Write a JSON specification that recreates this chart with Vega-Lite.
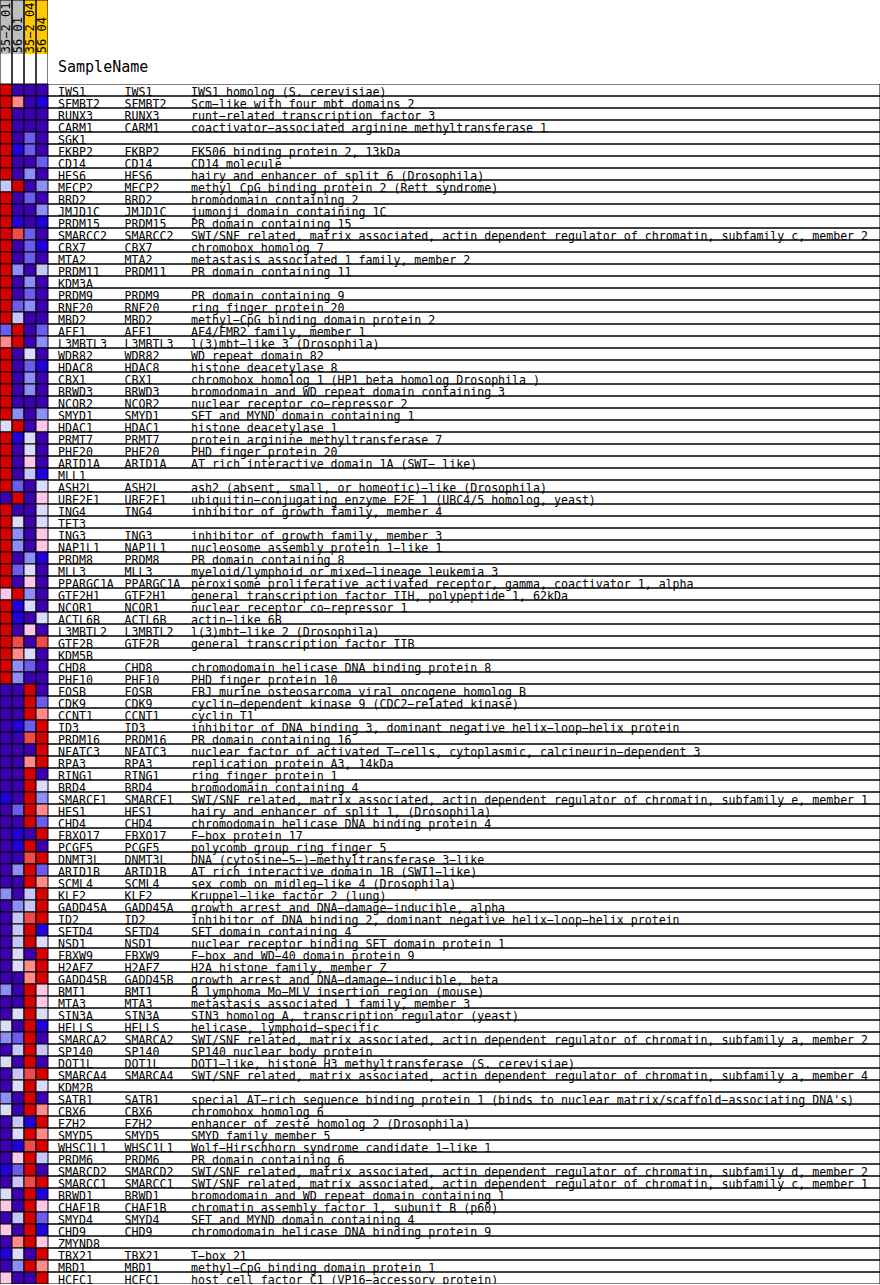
{
"$schema": "https://vega.github.io/schema/vega-lite/v6.json",
"padding": 0,
"config": {"view": {"stroke": null}, "font": "DejaVu Sans Mono", "concat": {"spacing": 0}, "mark": {"clip": true}},
"datasets": {
"samples": [
{"sample": "35-2_01", "label": "35−2_01", "time": "01"},
{"sample": "56_01", "label": "56_01", "time": "01"},
{"sample": "35-2_04", "label": "35−2_04", "time": "04"},
{"sample": "56_04", "label": "56_04", "time": "04"}
],
"head": [{"t": "SampleName"}],
"genes": [
{"g":"IWS1","s":"IWS1","d":"IWS1 homolog (S. cerevisiae)","35-2_01":4,"56_01":-4,"35-2_04":-4,"56_04":-4},
{"g":"SFMBT2","s":"SFMBT2","d":"Scm−like with four mbt domains 2","35-2_01":4,"56_01":2,"35-2_04":-4,"56_04":-5},
{"g":"RUNX3","s":"RUNX3","d":"runt−related transcription factor 3","35-2_01":4,"56_01":-4,"35-2_04":-4,"56_04":-4},
{"g":"CARM1","s":"CARM1","d":"coactivator−associated arginine methyltransferase 1","35-2_01":4,"56_01":-4,"35-2_04":-4,"56_04":-4},
{"g":"SGK1","s":"","d":"","35-2_01":4,"56_01":-4,"35-2_04":-3,"56_04":-4},
{"g":"FKBP2","s":"FKBP2","d":"FK506 binding protein 2, 13kDa","35-2_01":4,"56_01":-5,"35-2_04":-3,"56_04":-4},
{"g":"CD14","s":"CD14","d":"CD14 molecule","35-2_01":4,"56_01":-4,"35-2_04":-4,"56_04":-3},
{"g":"HES6","s":"HES6","d":"hairy and enhancer of split 6 (Drosophila)","35-2_01":4,"56_01":-4,"35-2_04":-2,"56_04":-4},
{"g":"MECP2","s":"MECP2","d":"methyl CpG binding protein 2 (Rett syndrome)","35-2_01":-1,"56_01":4,"35-2_04":-4,"56_04":-2},
{"g":"BRD2","s":"BRD2","d":"bromodomain containing 2","35-2_01":4,"56_01":-4,"35-2_04":-3,"56_04":-4},
{"g":"JMJD1C","s":"JMJD1C","d":"jumonji domain containing 1C","35-2_01":4,"56_01":-4,"35-2_04":-4,"56_04":-2},
{"g":"PRDM15","s":"PRDM15","d":"PR domain containing 15","35-2_01":4,"56_01":-5,"35-2_04":-4,"56_04":-5},
{"g":"SMARCC2","s":"SMARCC2","d":"SWI/SNF related, matrix associated, actin dependent regulator of chromatin, subfamily c, member 2","35-2_01":4,"56_01":3,"35-2_04":-3,"56_04":-4},
{"g":"CBX7","s":"CBX7","d":"chromobox homolog 7","35-2_01":4,"56_01":-4,"35-2_04":-3,"56_04":-5},
{"g":"MTA2","s":"MTA2","d":"metastasis associated 1 family, member 2","35-2_01":4,"56_01":-4,"35-2_04":-3,"56_04":-4},
{"g":"PRDM11","s":"PRDM11","d":"PR domain containing 11","35-2_01":4,"56_01":-2,"35-2_04":-4,"56_04":-1},
{"g":"KDM3A","s":"","d":"","35-2_01":4,"56_01":-4,"35-2_04":-2,"56_04":-4},
{"g":"PRDM9","s":"PRDM9","d":"PR domain containing 9","35-2_01":4,"56_01":-4,"35-2_04":-3,"56_04":-4},
{"g":"RNF20","s":"RNF20","d":"ring finger protein 20","35-2_01":4,"56_01":-3,"35-2_04":-2,"56_04":-4},
{"g":"MBD2","s":"MBD2","d":"methyl−CpG binding domain protein 2","35-2_01":4,"56_01":-1,"35-2_04":-4,"56_04":-4},
{"g":"AFF1","s":"AFF1","d":"AF4/FMR2 family, member 1","35-2_01":-3,"56_01":4,"35-2_04":-4,"56_04":-3},
{"g":"L3MBTL3","s":"L3MBTL3","d":"l(3)mbt−like 3 (Drosophila)","35-2_01":2,"56_01":4,"35-2_04":-4,"56_04":-2},
{"g":"WDR82","s":"WDR82","d":"WD repeat domain 82","35-2_01":4,"56_01":-4,"35-2_04":0,"56_04":-4},
{"g":"HDAC8","s":"HDAC8","d":"histone deacetylase 8","35-2_01":4,"56_01":-4,"35-2_04":-3,"56_04":-5},
{"g":"CBX1","s":"CBX1","d":"chromobox homolog 1 (HP1 beta homolog Drosophila )","35-2_01":4,"56_01":-4,"35-2_04":-2,"56_04":-4},
{"g":"BRWD3","s":"BRWD3","d":"bromodomain and WD repeat domain containing 3","35-2_01":4,"56_01":-4,"35-2_04":-2,"56_04":-4},
{"g":"NCOR2","s":"NCOR2","d":"nuclear receptor co−repressor 2","35-2_01":4,"56_01":-4,"35-2_04":-4,"56_04":-4},
{"g":"SMYD1","s":"SMYD1","d":"SET and MYND domain containing 1","35-2_01":4,"56_01":-2,"35-2_04":-4,"56_04":-2},
{"g":"HDAC1","s":"HDAC1","d":"histone deacetylase 1","35-2_01":0,"56_01":4,"35-2_04":-4,"56_04":1},
{"g":"PRMT7","s":"PRMT7","d":"protein arginine methyltransferase 7","35-2_01":4,"56_01":-5,"35-2_04":0,"56_04":-4},
{"g":"PHF20","s":"PHF20","d":"PHD finger protein 20","35-2_01":4,"56_01":-4,"35-2_04":0,"56_04":-4},
{"g":"ARID1A","s":"ARID1A","d":"AT rich interactive domain 1A (SWI− like)","35-2_01":4,"56_01":-4,"35-2_04":1,"56_04":-4},
{"g":"MLL1","s":"","d":"","35-2_01":4,"56_01":-4,"35-2_04":-1,"56_04":-5},
{"g":"ASH2L","s":"ASH2L","d":"ash2 (absent, small, or homeotic)−like (Drosophila)","35-2_01":4,"56_01":-3,"35-2_04":-4,"56_04":0},
{"g":"UBE2E1","s":"UBE2E1","d":"ubiquitin−conjugating enzyme E2E 1 (UBC4/5 homolog, yeast)","35-2_01":-4,"56_01":4,"35-2_04":-4,"56_04":1},
{"g":"ING4","s":"ING4","d":"inhibitor of growth family, member 4","35-2_01":4,"56_01":-4,"35-2_04":-4,"56_04":0},
{"g":"TET3","s":"","d":"","35-2_01":4,"56_01":0,"35-2_04":-4,"56_04":0},
{"g":"ING3","s":"ING3","d":"inhibitor of growth family, member 3","35-2_01":4,"56_01":-2,"35-2_04":-4,"56_04":1},
{"g":"NAP1L1","s":"NAP1L1","d":"nucleosome assembly protein 1−like 1","35-2_01":4,"56_01":-2,"35-2_04":-4,"56_04":1},
{"g":"PRDM8","s":"PRDM8","d":"PR domain containing 8","35-2_01":4,"56_01":-4,"35-2_04":-2,"56_04":-5},
{"g":"MLL3","s":"MLL3","d":"myeloid/lymphoid or mixed−lineage leukemia 3","35-2_01":4,"56_01":-3,"35-2_04":0,"56_04":-4},
{"g":"PPARGC1A","s":"PPARGC1A","d":"peroxisome proliferative activated receptor, gamma, coactivator 1, alpha","35-2_01":4,"56_01":-4,"35-2_04":1,"56_04":-4},
{"g":"GTF2H1","s":"GTF2H1","d":"general transcription factor IIH, polypeptide 1, 62kDa","35-2_01":1,"56_01":4,"35-2_04":-2,"56_04":-4},
{"g":"NCOR1","s":"NCOR1","d":"nuclear receptor co−repressor 1","35-2_01":4,"56_01":-5,"35-2_04":0,"56_04":-4},
{"g":"ACTL6B","s":"ACTL6B","d":"actin−like 6B","35-2_01":4,"56_01":-5,"35-2_04":-4,"56_04":0},
{"g":"L3MBTL2","s":"L3MBTL2","d":"l(3)mbt−like 2 (Drosophila)","35-2_01":4,"56_01":-4,"35-2_04":1,"56_04":-4},
{"g":"GTF2B","s":"GTF2B","d":"general transcription factor IIB","35-2_01":4,"56_01":3,"35-2_04":-4,"56_04":3},
{"g":"KDM5B","s":"","d":"","35-2_01":4,"56_01":2,"35-2_04":0,"56_04":-4},
{"g":"CHD8","s":"CHD8","d":"chromodomain helicase DNA binding protein 8","35-2_01":4,"56_01":-2,"35-2_04":-3,"56_04":-4},
{"g":"PHF10","s":"PHF10","d":"PHD finger protein 10","35-2_01":4,"56_01":-2,"35-2_04":-4,"56_04":-4},
{"g":"FOSB","s":"FOSB","d":"FBJ murine osteosarcoma viral oncogene homolog B","35-2_01":-4,"56_01":-4,"35-2_04":4,"56_04":-4},
{"g":"CDK9","s":"CDK9","d":"cyclin−dependent kinase 9 (CDC2−related kinase)","35-2_01":-4,"56_01":-4,"35-2_04":4,"56_04":-3},
{"g":"CCNT1","s":"CCNT1","d":"cyclin T1","35-2_01":-4,"56_01":-4,"35-2_04":4,"56_04":2},
{"g":"ID3","s":"ID3","d":"inhibitor of DNA binding 3, dominant negative helix−loop−helix protein","35-2_01":-4,"56_01":-5,"35-2_04":-3,"56_04":4},
{"g":"PRDM16","s":"PRDM16","d":"PR domain containing 16","35-2_01":-4,"56_01":-4,"35-2_04":3,"56_04":4},
{"g":"NFATC3","s":"NFATC3","d":"nuclear factor of activated T−cells, cytoplasmic, calcineurin−dependent 3","35-2_01":-4,"56_01":-4,"35-2_04":-4,"56_04":4},
{"g":"RPA3","s":"RPA3","d":"replication protein A3, 14kDa","35-2_01":-4,"56_01":-4,"35-2_04":2,"56_04":4},
{"g":"RING1","s":"RING1","d":"ring finger protein 1","35-2_01":-4,"56_01":-4,"35-2_04":4,"56_04":-4},
{"g":"BRD4","s":"BRD4","d":"bromodomain containing 4","35-2_01":-4,"56_01":-4,"35-2_04":4,"56_04":0},
{"g":"SMARCE1","s":"SMARCE1","d":"SWI/SNF related, matrix associated, actin dependent regulator of chromatin, subfamily e, member 1","35-2_01":-5,"56_01":-4,"35-2_04":4,"56_04":-2},
{"g":"HES1","s":"HES1","d":"hairy and enhancer of split 1, (Drosophila)","35-2_01":-4,"56_01":-3,"35-2_04":4,"56_04":2},
{"g":"CHD4","s":"CHD4","d":"chromodomain helicase DNA binding protein 4","35-2_01":-4,"56_01":-4,"35-2_04":4,"56_04":-3},
{"g":"FBXO17","s":"FBXO17","d":"F−box protein 17","35-2_01":-4,"56_01":-5,"35-2_04":-4,"56_04":4},
{"g":"PCGF5","s":"PCGF5","d":"polycomb group ring finger 5","35-2_01":-4,"56_01":-5,"35-2_04":4,"56_04":-4},
{"g":"DNMT3L","s":"DNMT3L","d":"DNA (cytosine−5−)−methyltransferase 3−like","35-2_01":-4,"56_01":-4,"35-2_04":3,"56_04":4},
{"g":"ARID1B","s":"ARID1B","d":"AT rich interactive domain 1B (SWI1−like)","35-2_01":-4,"56_01":-2,"35-2_04":4,"56_04":-3},
{"g":"SCML4","s":"SCML4","d":"sex comb on midleg−like 4 (Drosophila)","35-2_01":-4,"56_01":-4,"35-2_04":4,"56_04":2},
{"g":"KLF2","s":"KLF2","d":"Kruppel−like factor 2 (lung)","35-2_01":-2,"56_01":-4,"35-2_04":-1,"56_04":4},
{"g":"GADD45A","s":"GADD45A","d":"growth arrest and DNA−damage−inducible, alpha","35-2_01":-4,"56_01":-2,"35-2_04":-1,"56_04":4},
{"g":"ID2","s":"ID2","d":"inhibitor of DNA binding 2, dominant negative helix−loop−helix protein","35-2_01":-4,"56_01":-1,"35-2_04":3,"56_04":4},
{"g":"SETD4","s":"SETD4","d":"SET domain containing 4","35-2_01":-4,"56_01":-1,"35-2_04":4,"56_04":-5},
{"g":"NSD1","s":"NSD1","d":"nuclear receptor binding SET domain protein 1","35-2_01":-4,"56_01":-1,"35-2_04":4,"56_04":0},
{"g":"FBXW9","s":"FBXW9","d":"F−box and WD−40 domain protein 9","35-2_01":-4,"56_01":0,"35-2_04":-4,"56_04":4},
{"g":"H2AFZ","s":"H2AFZ","d":"H2A histone family, member Z","35-2_01":-4,"56_01":0,"35-2_04":2,"56_04":4},
{"g":"GADD45B","s":"GADD45B","d":"growth arrest and DNA−damage−inducible, beta","35-2_01":-4,"56_01":-4,"35-2_04":2,"56_04":4},
{"g":"BMI1","s":"BMI1","d":"B lymphoma Mo−MLV insertion region (mouse)","35-2_01":-2,"56_01":-4,"35-2_04":4,"56_04":1},
{"g":"MTA3","s":"MTA3","d":"metastasis associated 1 family, member 3","35-2_01":-4,"56_01":-4,"35-2_04":4,"56_04":1},
{"g":"SIN3A","s":"SIN3A","d":"SIN3 homolog A, transcription regulator (yeast)","35-2_01":-4,"56_01":0,"35-2_04":4,"56_04":0},
{"g":"HELLS","s":"HELLS","d":"helicase, lymphoid−specific","35-2_01":0,"56_01":-4,"35-2_04":4,"56_04":-5},
{"g":"SMARCA2","s":"SMARCA2","d":"SWI/SNF related, matrix associated, actin dependent regulator of chromatin, subfamily a, member 2","35-2_01":-2,"56_01":-3,"35-2_04":4,"56_04":-4},
{"g":"SP140","s":"SP140","d":"SP140 nuclear body protein","35-2_01":-4,"56_01":-1,"35-2_04":4,"56_04":-1},
{"g":"DOT1L","s":"DOT1L","d":"DOT1−like, histone H3 methyltransferase (S. cerevisiae)","35-2_01":0,"56_01":-4,"35-2_04":4,"56_04":-4},
{"g":"SMARCA4","s":"SMARCA4","d":"SWI/SNF related, matrix associated, actin dependent regulator of chromatin, subfamily a, member 4","35-2_01":-4,"56_01":-1,"35-2_04":3,"56_04":4},
{"g":"KDM2B","s":"","d":"","35-2_01":-4,"56_01":0,"35-2_04":4,"56_04":0},
{"g":"SATB1","s":"SATB1","d":"special AT−rich sequence binding protein 1 (binds to nuclear matrix/scaffold−associating DNA's)","35-2_01":-2,"56_01":-4,"35-2_04":4,"56_04":-4},
{"g":"CBX6","s":"CBX6","d":"chromobox homolog 6","35-2_01":0,"56_01":-4,"35-2_04":4,"56_04":2},
{"g":"EZH2","s":"EZH2","d":"enhancer of zeste homolog 2 (Drosophila)","35-2_01":-4,"56_01":-1,"35-2_04":-5,"56_04":4},
{"g":"SMYD5","s":"SMYD5","d":"SMYD family member 5","35-2_01":-4,"56_01":0,"35-2_04":4,"56_04":2},
{"g":"WHSC1L1","s":"WHSC1L1","d":"Wolf−Hirschhorn syndrome candidate 1−like 1","35-2_01":-4,"56_01":-5,"35-2_04":3,"56_04":4},
{"g":"PRDM6","s":"PRDM6","d":"PR domain containing 6","35-2_01":-4,"56_01":1,"35-2_04":4,"56_04":-1},
{"g":"SMARCD2","s":"SMARCD2","d":"SWI/SNF related, matrix associated, actin dependent regulator of chromatin, subfamily d, member 2","35-2_01":-5,"56_01":-3,"35-2_04":4,"56_04":-4},
{"g":"SMARCC1","s":"SMARCC1","d":"SWI/SNF related, matrix associated, actin dependent regulator of chromatin, subfamily c, member 1","35-2_01":-4,"56_01":-1,"35-2_04":3,"56_04":4},
{"g":"BRWD1","s":"BRWD1","d":"bromodomain and WD repeat domain containing 1","35-2_01":0,"56_01":-4,"35-2_04":4,"56_04":-5},
{"g":"CHAF1B","s":"CHAF1B","d":"chromatin assembly factor 1, subunit B (p60)","35-2_01":1,"56_01":-4,"35-2_04":4,"56_04":1},
{"g":"SMYD4","s":"SMYD4","d":"SET and MYND domain containing 4","35-2_01":-4,"56_01":-1,"35-2_04":4,"56_04":-3},
{"g":"CHD9","s":"CHD9","d":"chromodomain helicase DNA binding protein 9","35-2_01":1,"56_01":-4,"35-2_04":4,"56_04":-5},
{"g":"ZMYND8","s":"","d":"","35-2_01":-4,"56_01":2,"35-2_04":4,"56_04":1},
{"g":"TBX21","s":"TBX21","d":"T−box 21","35-2_01":-5,"56_01":0,"35-2_04":-4,"56_04":4},
{"g":"MBD1","s":"MBD1","d":"methyl−CpG binding domain protein 1","35-2_01":-4,"56_01":-2,"35-2_04":4,"56_04":2},
{"g":"HCFC1","s":"HCFC1","d":"host cell factor C1 (VP16−accessory protein)","35-2_01":1,"56_01":-4,"35-2_04":-4,"56_04":4}
]
},
"vconcat": [
{
"hconcat": [
{
"width": 48, "height": 84,
"data": {"name": "samples"},
"layer": [
{"mark": {"type": "rect", "clip": true},
"encoding": {
"x": {"field": "sample", "type": "nominal", "sort": null, "scale": {"paddingInner": 0, "paddingOuter": 0}, "axis": null},
"y": {"datum": 0, "type": "quantitative", "scale": {"domain": [0, 84], "reverse": true}, "axis": null},
"y2": {"datum": 58},
"fill": {"field": "time", "type": "nominal", "scale": {"domain": ["01", "04"], "range": ["#bebebe", "#ffc800"]}, "legend": null}
}},
{"mark": {"type": "rect", "filled": false, "stroke": "black", "strokeWidth": 1, "clip": true},
"encoding": {
"x": {"field": "sample", "type": "nominal", "sort": null, "axis": null}
}},
{"mark": {"type": "text", "angle": 270, "align": "left", "baseline": "middle", "fontSize": 12, "font": "DejaVu Sans Mono", "color": "black", "clip": true},
"encoding": {
"x": {"field": "sample", "type": "nominal", "sort": null, "axis": null},
"y": {"datum": 57, "type": "quantitative"},
"text": {"field": "label"}
}}
]
},
{
"width": 832, "height": 84,
"data": {"name": "head"},
"mark": {"type": "text", "align": "left", "baseline": "alphabetic", "fontSize": 15, "font": "DejaVu Sans Mono", "color": "black", "clip": true},
"encoding": {
"x": {"datum": 0, "type": "quantitative", "scale": {"domain": [0, 2], "range": [10, 143]}, "axis": null},
"y": {"datum": 71.5, "type": "quantitative", "scale": {"domain": [0, 84], "reverse": true}, "axis": null},
"text": {"field": "t"}
}
}
]
},
{
"hconcat": [
{
"width": 48, "height": 1200,
"data": {"name": "genes"},
"transform": [{"fold": ["35-2_01", "56_01", "35-2_04", "56_04"], "as": ["sample", "value"]}],
"mark": {"type": "rect", "stroke": "black", "strokeWidth": 1, "clip": true},
"encoding": {
"x": {"field": "sample", "type": "nominal", "sort": ["35-2_01", "56_01", "35-2_04", "56_04"], "scale": {"paddingInner": 0, "paddingOuter": 0}, "axis": null},
"y": {"field": "g", "type": "nominal", "sort": null, "scale": {"paddingInner": 0, "paddingOuter": 0}, "axis": null},
"fill": {"field": "value", "type": "quantitative", "scale": {"domain": [-5, -4, -3, -2, -1, 0, 1, 2, 3, 4], "range": ["#2200dd", "#3c00b0", "#6c5cee", "#8e8ef6", "#c6c6f8", "#dcdcfa", "#fcc8e6", "#ff8a8a", "#f04a4a", "#d90000"]}, "legend": null}
}
},
{
"width": 832, "height": 1200,
"data": {"name": "genes"},
"encoding": {
"y": {"field": "g", "type": "nominal", "sort": null, "scale": {"paddingInner": 0, "paddingOuter": 0}, "axis": null}
},
"layer": [
{"mark": {"type": "rect", "filled": false, "stroke": "black", "strokeWidth": 1, "clip": true}},
{"mark": {"type": "text", "align": "left", "baseline": "alphabetic", "dy": 5.5, "fontSize": 11.6, "font": "DejaVu Sans Mono", "color": "black", "clip": true},
"encoding": {"x": {"datum": 0, "type": "quantitative", "scale": {"domain": [0, 2], "range": [10, 143]}, "axis": null}, "text": {"field": "g"}}},
{"mark": {"type": "text", "align": "left", "baseline": "alphabetic", "dy": 5.5, "fontSize": 11.6, "font": "DejaVu Sans Mono", "color": "black", "clip": true},
"encoding": {"x": {"datum": 1, "type": "quantitative"}, "text": {"field": "s"}}},
{"mark": {"type": "text", "align": "left", "baseline": "alphabetic", "dy": 5.5, "fontSize": 11.6, "font": "DejaVu Sans Mono", "color": "black", "clip": true},
"encoding": {"x": {"datum": 2, "type": "quantitative"}, "text": {"field": "d"}}}
]
}
]
}
]
}
